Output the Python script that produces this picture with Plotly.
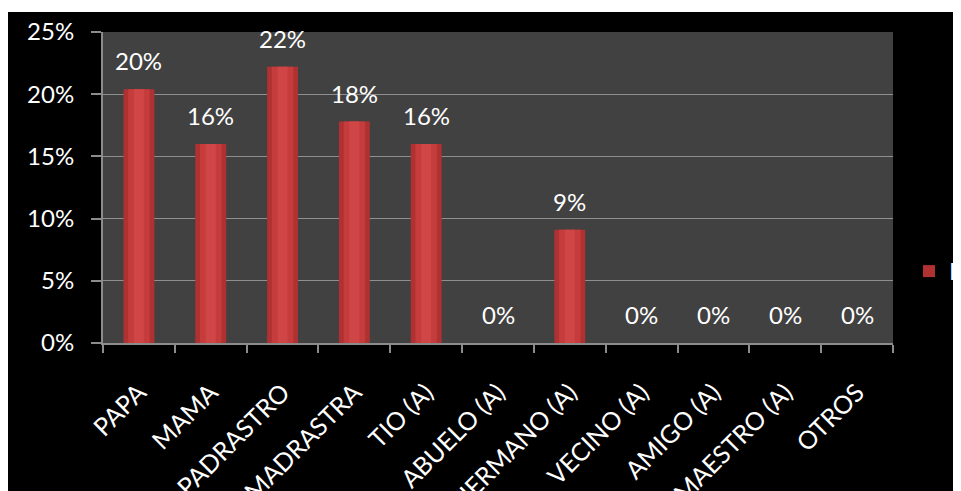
import plotly.graph_objects as go

categories = ["PAPA", "MAMA", "PADRASTRO", "MADRASTRA", "TIO (A)", "ABUELO (A)",
              "HERMANO (A)", "VECINO (A)", "AMIGO (A)", "MAESTRO (A)", "OTROS"]
values = [20.4, 16.0, 22.2, 17.8, 16.0, 0, 9.1, 0, 0, 0, 0]
series_name = "DATOS"
y_ticks = [0, 5, 10, 15, 20, 25]

FONT = "Lato"
W, H = 953, 483          # page body margin adds 8 px on top/left
L, R, T, B = 95, 68, 24, 148
PW, PH = W - L - R, H - T - B

fig = go.Figure()
# base bar (darker edges) + lighter inner cores to mimic the cylinder shading
fig.add_trace(go.Bar(x=categories, y=values, name=series_name, width=0.43,
                     marker=dict(color="#b03131", line=dict(width=0))))
fig.add_trace(go.Bar(x=categories, y=values, showlegend=False, width=0.30,
                     marker=dict(color="#c53c3c", line=dict(width=0)), hoverinfo="skip"))
fig.add_trace(go.Bar(x=categories, y=values, showlegend=False, width=0.14,
                     marker=dict(color="#d04545", line=dict(width=0)), hoverinfo="skip"))

for c, v in zip(categories, values):
    fig.add_annotation(x=c, y=v, text=f"{v:.0f}%", showarrow=False,
                       yanchor="bottom", yshift=12,
                       font=dict(family=FONT, size=24, color="white"))

# thin white strip at the top edge of the picture
fig.add_shape(type="rect", xref="paper", yref="paper",
              x0=-L / PW - 0.1, x1=(W - L) / PW + 0.1,
              y0=(PH + T - 4) / PH, y1=(PH + T) / PH + 0.1,
              fillcolor="white", line=dict(width=0), layer="above")

fig.update_layout(
    width=W, height=H,
    margin=dict(l=L, r=R, t=T, b=B, pad=0, autoexpand=False),
    paper_bgcolor="black", plot_bgcolor="#414141",
    barmode="overlay",
    font=dict(family=FONT, size=24, color="white"),
    showlegend=True,
    legend=dict(xref="container", yref="container", x=901 / W, y=1 - 263.5 / H,
                xanchor="left", yanchor="middle",
                font=dict(family=FONT, size=24, color="white"),
                bgcolor="rgba(0,0,0,0)"),
    xaxis=dict(type="category", tickangle=-45, showgrid=False, automargin=False,
               showline=True, linecolor="#8c8c8c", linewidth=2,
               ticks="outside", tickson="boundaries", ticklen=8, tickwidth=2,
               tickcolor="#8c8c8c", tickfont=dict(family=FONT, size=25, color="white"),
               ticklabelstandoff=23),
    yaxis=dict(range=[0, 25], tickvals=y_ticks, ticktext=[f"{t}%" for t in y_ticks],
               automargin=False,
               showgrid=True, gridcolor="#8f8f8f", gridwidth=1,
               showline=True, linecolor="#8c8c8c", linewidth=2,
               ticks="outside", ticklen=10, tickwidth=2, tickcolor="#8c8c8c",
               tickfont=dict(family=FONT, size=24, color="white"),
               ticklabelstandoff=12, zeroline=False),
)

fig.write_html("out.html")
